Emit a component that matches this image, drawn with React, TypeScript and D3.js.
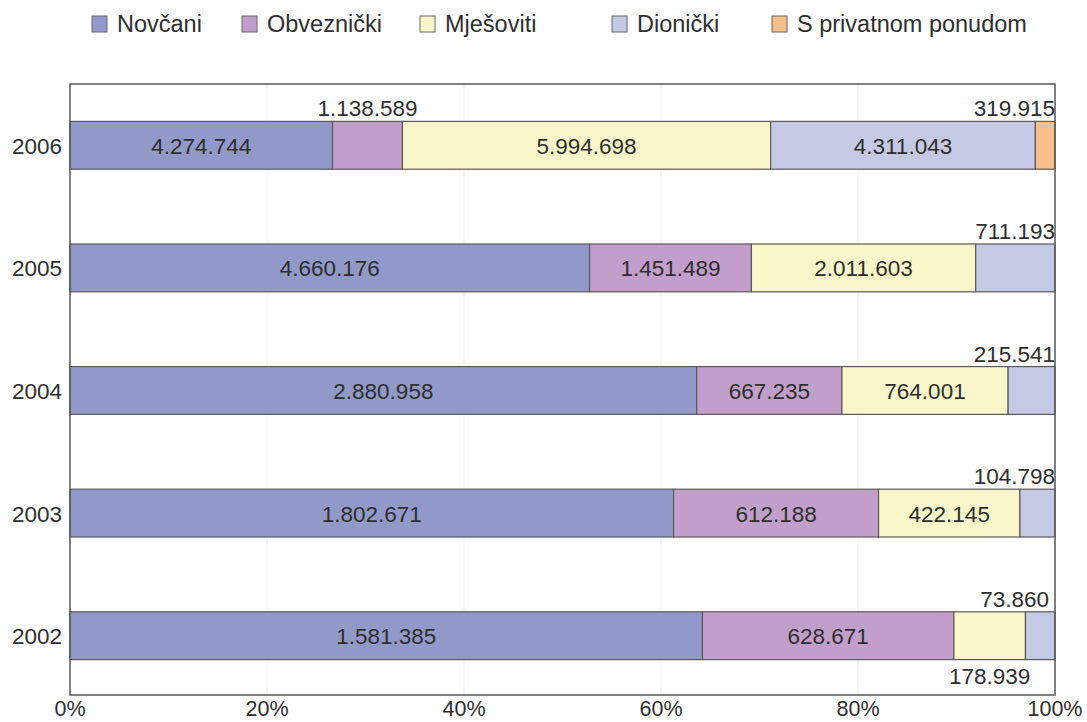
import * as d3 from "d3";

// data
const years = ["2006", "2005", "2004", "2003", "2002"];
const seriesNames = ["Novčani", "Obveznički", "Mješoviti", "Dionički", "S privatnom ponudom"];
const novcani = [4274744, 4660176, 2880958, 1802671, 1581385];
const obveznicki = [1138589, 1451489, 667235, 612188, 628671];
const mjesoviti = [5994698, 2011603, 764001, 422145, 178939];
const dionicki = [4311043, 711193, 215541, 104798, 73860];
const privatni = [319915, 0, 0, 0, 0];
const tickValues = [0, 0.2, 0.4, 0.6, 0.8, 1];

const colors = ["#9199c9", "#c29fca", "#f9f7c9", "#c6c9e3", "#f7bf8b"];

const W = 1087;
const H = 722;
const margin = { left: 70, right: 32, top: 84, bottom: 25 };
const legendX = [92, 242, 420, 612, 772];
const FONT = "'Liberation Sans', Arial, Helvetica, sans-serif";
const TXT = "#2e2e2e";
const LABEL_FS = 22.5;

const fmt = d3
  .formatLocale({ decimal: ",", thousands: ".", grouping: [3], currency: ["", ""] })
  .format(",d");

// rough text width for Liberation Sans digits/dots
const textWidth = (s: string, fs: number) =>
  s.split("").reduce((w, c) => w + (c === "." ? 0.278 : 0.556) * fs, 0);

export default function App() {
  const allSeries = [novcani, obveznicki, mjesoviti, dionicki, privatni];
  const rows = years.map((y, i) => {
    const r: any = { year: y };
    seriesNames.forEach((s, j) => (r[s] = allSeries[j][i]));
    return r;
  });

  const stacked = d3
    .stack<any>()
    .keys(seriesNames)
    .offset(d3.stackOffsetExpand)(rows);

  const x = d3.scaleLinear().domain([0, 1]).range([margin.left, W - margin.right]);
  const y = d3
    .scaleBand()
    .domain(years)
    .range([margin.top, H - margin.bottom])
    .paddingInner(0.61)
    .paddingOuter(0.305);

  const bw = y.bandwidth();

  // build label specs per bar
  const labels: any[] = [];
  years.forEach((yr, i) => {
    const segs = stacked.map((s, j) => {
      const d = s[i];
      const v = allSeries[j][i];
      const text = fmt(v);
      const x0 = x(d[0]);
      const x1 = x(d[1]);
      const tw = textWidth(text, LABEL_FS);
      return { v, text, x0, x1, tw, inside: x1 - x0 >= tw + 8 };
    });
    segs.forEach((s, j) => {
      if (!s.v) return;
      const cx = (s.x0 + s.x1) / 2;
      const yTop = y(yr)!;
      if (s.inside) {
        labels.push({ key: `${yr}-${j}`, x: cx, y: yTop + bw / 2 + 1, anchor: "middle", base: "central", text: s.text });
        return;
      }
      const next = segs[j + 1];
      const below = next && next.v && !next.inside;
      let lx = cx;
      let anchor = "middle";
      if (cx + s.tw / 2 > x(1)) {
        lx = x(1) - (s.x1 - s.x0 < 35 && j < 4 ? 6 : 0);
        anchor = "end";
      }
      labels.push({
        key: `${yr}-${j}`,
        x: lx,
        y: below ? yTop + bw + 24 : yTop - 5,
        anchor,
        base: "auto",
        text: s.text,
      });
    });
  });

  return (
    <svg
      width={W}
      height={H}
      style={{ position: "absolute", left: 0, top: 0, background: "#fff", fontFamily: FONT }}
    >
      {/* legend */}
      <g>
        {seriesNames.map((s, j) => (
          <g key={s} transform={`translate(${legendX[j]},16)`}>
            <rect x={0} y={0} width={15} height={16} fill={colors[j]} stroke="#666" strokeWidth={1} />
            <text x={25} y={16} fontSize={23.5} fill={TXT}>
              {s}
            </text>
          </g>
        ))}
      </g>

      {/* faint gridlines */}
      {tickValues.slice(1, -1).map((t) => (
        <line key={t} x1={x(t)} x2={x(t)} y1={margin.top} y2={H - margin.bottom} stroke="#f1f1f1" />
      ))}

      {/* bars */}
      {stacked.map((s, j) => (
        <g key={s.key} fill={colors[j]}>
          {s.map((d, i) =>
            d[1] - d[0] > 0 ? (
              <rect
                key={years[i]}
                x={x(d[0])}
                y={y(years[i])}
                width={x(d[1]) - x(d[0])}
                height={bw}
                stroke="#5a5a5a"
                strokeWidth={1.2}
              />
            ) : null
          )}
        </g>
      ))}

      {/* frame */}
      <rect
        x={margin.left}
        y={margin.top}
        width={W - margin.left - margin.right}
        height={H - margin.top - margin.bottom - 2}
        fill="none"
        stroke="#555"
        strokeWidth={1.5}
      />

      {/* value labels */}
      {labels.map((l) => (
        <text
          key={l.key}
          x={l.x}
          y={l.y}
          textAnchor={l.anchor}
          dominantBaseline={l.base}
          fontSize={LABEL_FS}
          fill={TXT}
        >
          {l.text}
        </text>
      ))}

      {/* y axis labels */}
      {years.map((yr) => (
        <text
          key={yr}
          x={margin.left - 8}
          y={y(yr)! + bw / 2 + 1}
          textAnchor="end"
          dominantBaseline="central"
          fontSize={22.5}
          fill={TXT}
        >
          {yr}
        </text>
      ))}

      {/* x axis labels */}
      {tickValues.map((t) => (
        <text key={t} x={x(t)} y={716} textAnchor="middle" fontSize={21.5} fill={TXT}>
          {d3.format(".0%")(t)}
        </text>
      ))}
    </svg>
  );
}
